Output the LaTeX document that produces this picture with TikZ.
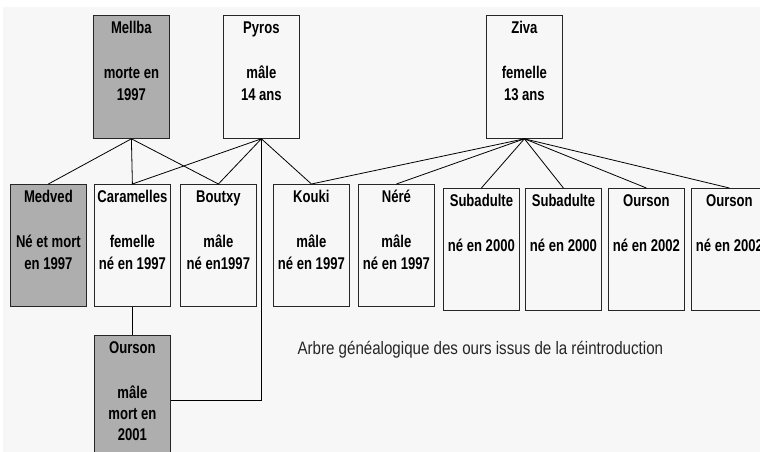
\documentclass[tikz,border=0pt]{standalone}
\usepackage{fontspec}
\newfontfamily\boxfont[FakeStretch=0.77]{Liberation Sans}
\newfontfamily\legendfont[FakeStretch=0.84]{Liberation Sans}
\definecolor{fond}{HTML}{F7F7F7}
\definecolor{mortgris}{HTML}{AEAEAE}
\newcommand{\fiche}[2][122pt]{\parbox[c][#1][t]{76pt}{\centering\boxfont\bfseries\fontsize{17}{22.5}\selectfont\rule{0pt}{18pt}#2}}
\tikzset{ours/.style={draw=black!85, line width=0.8pt, fill=fond, inner sep=0pt, anchor=north west},
    oursmort/.style={ours, fill=mortgris},
    lien/.style={line width=0.8pt}}

\begin{document}
\begin{tikzpicture}[x=1pt, y=-1pt]
    \useasboundingbox (0,0) rectangle (760,452);
    \clip (0,0) rectangle (760,452);
    \fill[white] (0,0) rectangle (760,452);
    \fill[fond] (3,7) rectangle (760,452);
    \node[oursmort] (mellba) at (93,15) {\fiche[123pt]{Mellba\\~\\morte en\\1997}};
    \node[ours] (pyros) at (223,15) {\fiche[123pt]{Pyros\\~\\mâle\\14 ans}};
    \node[ours] (ziva) at (486,15) {\fiche[123pt]{Ziva\\~\\femelle\\13 ans}};
    \node[oursmort] (medved) at (10,184) {\fiche{Medved\\~\\Né et mort\\en 1997}};
    \node[ours] (caramelles) at (94,184) {\fiche{Caramelles\\~\\femelle\\né en 1997}};
    \node[ours] (boutxy) at (180,184) {\fiche{Boutxy\\~\\mâle\\né en1997}};
    \node[ours] (kouki) at (273,184) {\fiche{Kouki\\~\\mâle\\né en 1997}};
    \node[ours] (nere) at (358,184) {\fiche{Néré\\~\\mâle\\né en 1997}};
    \node[ours] (subA) at (443,188) {\fiche{Subadulte\\~\\né en 2000}};
    \node[ours] (subB) at (525,188) {\fiche{Subadulte\\~\\né en 2000}};
    \node[ours] (oursonA) at (608,188) {\fiche{Ourson\\~\\né en 2002}};
    \node[ours] (oursonB) at (691,188) {\fiche{Ourson\\~\\né en 2002}};
    \node[oursmort] (oursonC) at (94,335) {\fiche[130pt]{Ourson\\~\\mâle\\[-1.5pt]mort en\\[-1.5pt]2001}};
    \node[anchor=base west, text=black!85, font=\legendfont\fontsize{18}{20}\selectfont] (legende) at (294,354) {Arbre généalogique des ours issus de la réintroduction};
    \foreach \petit in {medved,caramelles,boutxy}
        \draw[lien] (mellba.south) -- (\petit.north);
    \foreach \petit in {caramelles,boutxy,kouki}
        \draw[lien] (pyros.south) -- (\petit.north);
    \foreach \petit in {kouki,nere,subA,subB,oursonA,oursonB}
        \draw[lien] (ziva.south) -- (\petit.north);
    \draw[lien] (caramelles.south) -- (oursonC.north);
    \draw[lien] (pyros.south) |- (oursonC.east);
\end{tikzpicture}
\end{document}
